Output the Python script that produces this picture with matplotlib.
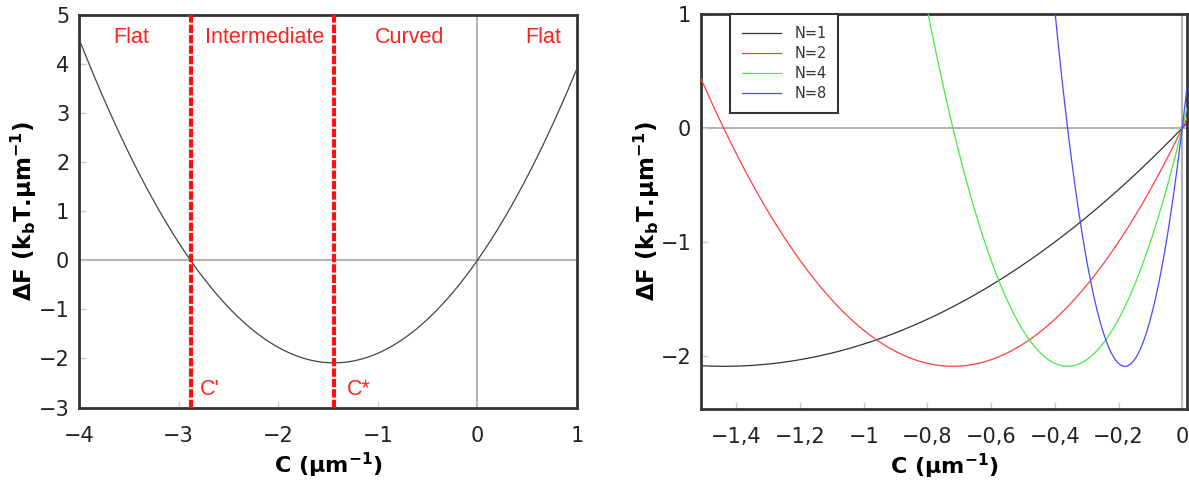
import numpy as np
import matplotlib
matplotlib.use("Agg")
import matplotlib.pyplot as plt
from matplotlib.ticker import FuncFormatter

# ---- data ----
# minimum of the free-energy curve for N=1: position C* and depth
C_star_1 = -1.44          # um^-1
F_min = -2.09             # kbT.um^-1
C_prime = -2.88           # zero crossing C'
N_values = [1, 2, 4, 8]
series_colors = ["#333333", "#ff4040", "#40ee40", "#4848ff"]
region_labels = ["Flat", "Intermediate", "Curved", "Flat"]
region_x = [-3.48, -2.14, -0.68, 0.66]
left_xticks = [-4, -3, -2, -1, 0, 1]
left_yticks = [-3, -2, -1, 0, 1, 2, 3, 4, 5]
right_xticks = [-1.4, -1.2, -1.0, -0.8, -0.6, -0.4, -0.2, 0.0]
right_yticks = [-2, -1, 0, 1]


def dF(C, N=1):
    # parabola through 0 and 2C*/N with depth F_min at C*/N
    cs = C_star_1 / N
    return F_min * (1 - ((C - cs) / cs) ** 2)


W, H = 1189, 488
fig = plt.figure(figsize=(W / 100, H / 100), dpi=100)

spine_col = "#333333"
grid_col = "#b4b4b4"
tick_fs = 15
xlab_fs = 16
ylab_fs = 16.5


def style(ax):
    for s in ax.spines.values():
        s.set_color(spine_col)
        s.set_linewidth(2.0)
    ax.tick_params(direction="in", length=5, width=1, color="#cccccc",
                   labelsize=tick_fs, labelcolor="#222222")
    ax.tick_params(axis="x", pad=13)
    ax.tick_params(axis="y", pad=7)


def fmt(v, pos):
    s = ("%.1f" % v).rstrip("0").rstrip(".")
    if s in ("-0",):
        s = "0"
    return s.replace(".", ",").replace("-", "\u2212")


ylab = r"$\mathbf{\Delta}$F (k$_{\mathregular{b}}$T.µm$^{\mathregular{-1}}$)"
xlab = r"C (µm$^{\mathregular{-1}}$)"

# ---------------- left panel ----------------
ax1 = fig.add_axes([79 / W, (H - 407.5) / H, (577 - 79) / W, (407.5 - 15) / H])
style(ax1)
ax1.set_xlim(-4, 1)
ax1.set_ylim(-3, 5)
ax1.axhline(0, color=grid_col, lw=1.5, zorder=1)
ax1.axvline(0, color=grid_col, lw=1.5, zorder=1)
C = np.linspace(-4, 1, 600)
ax1.plot(C, dF(C, 1), color="#444444", lw=0.9, zorder=3)
for xv in (C_prime, C_star_1):
    ax1.axvline(xv, color="#ff1010", lw=3.0, ls=(0, (2.0, 0.5)), zorder=4)
for lbl, xv in zip(region_labels, region_x):
    ax1.text(xv, 4.55, lbl, color="#ff2020", fontsize=15.5,
             family="Liberation Sans", ha="center", va="center")
ax1.text(C_prime + 0.09, -2.64, "C'", color="#ff2020", fontsize=15.5,
         family="Liberation Sans", ha="left", va="center")
ax1.text(C_star_1 + 0.13, -2.64, "C*", color="#ff2020", fontsize=15.5,
         family="Liberation Sans", ha="left", va="center")
ax1.set_xticks(left_xticks)
ax1.set_yticks(left_yticks)
ax1.xaxis.set_major_formatter(FuncFormatter(fmt))
ax1.yaxis.set_major_formatter(FuncFormatter(fmt))
ax1.set_xlabel(xlab, fontsize=xlab_fs, fontweight="bold", labelpad=4)
ax1.set_ylabel(ylab, fontsize=ylab_fs, fontweight="bold", labelpad=0)

# ---------------- right panel ----------------
ax2 = fig.add_axes([701 / W, (H - 408.5) / H, (1187 - 701) / W, (408.5 - 14) / H])
style(ax2)
ax2.set_xlim(-1.511, 0.015)
ax2.set_ylim(-2.46, 1)
ax2.axhline(0, color=grid_col, lw=1.5, zorder=1)
ax2.axvline(0, color=grid_col, lw=1.5, zorder=1)
C2 = np.linspace(-1.511, 0.015, 1500)
for N, col in zip(N_values, series_colors):
    ax2.plot(C2, dF(C2, N), color=col, lw=0.9, label="N=%d" % N, zorder=3)
ax2.set_xticks(right_xticks)
ax2.set_yticks(right_yticks)
ax2.xaxis.set_major_formatter(FuncFormatter(fmt))
ax2.yaxis.set_major_formatter(FuncFormatter(fmt))
ax2.set_xlabel(xlab, fontsize=xlab_fs, fontweight="bold", labelpad=4)
ax2.set_ylabel(ylab, fontsize=ylab_fs, fontweight="bold", labelpad=-1)
leg = ax2.legend(loc="upper left", bbox_to_anchor=(0.06, 1.0), borderaxespad=0,
                 fontsize=10.5, frameon=True, fancybox=False, framealpha=1,
                 handlelength=2.7, handletextpad=0.9, labelspacing=0.35,
                 borderpad=0.8)
leg.get_frame().set_edgecolor(spine_col)
leg.get_frame().set_linewidth(1.5)
for t in leg.get_texts():
    t.set_color("#333333")

fig.savefig("out.png", dpi=100)
